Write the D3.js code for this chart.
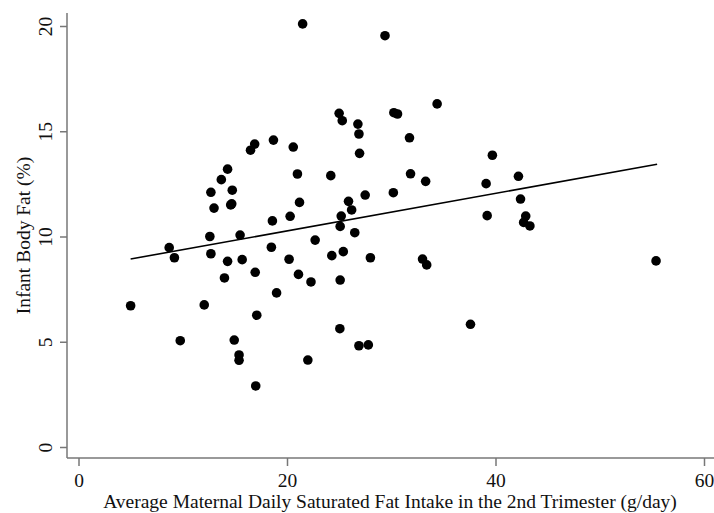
<!DOCTYPE html>
<html>
<head>
<meta charset="utf-8">
<script src="https://cdn.jsdelivr.net/npm/d3@7"></script>
<style>
  html, body { margin: 0; padding: 0; background: #fff; }
  svg { display: block; }
  text { font-family: "Liberation Serif", "DejaVu Serif", serif; fill: #111; }
</style>
</head>
<body>
<div id="chart"></div>
<script>
// Scatter of infant body fat vs maternal saturated fat intake

const satFat = [
  18.7, 16.9, 16.5, 14.3, 13.7, 12.7, 14.75, 14.6, 14.7, 13.0,
  18.6, 12.6, 15.5, 21.5, 29.4, 34.4, 25.0, 25.3, 26.8, 26.9,
  30.25, 30.6, 31.75, 20.6, 26.96, 21.0, 24.2, 31.85, 33.3, 27.5,
  30.2, 21.2, 25.9, 26.2, 20.3, 25.2, 25.1, 26.5, 22.7, 39.7,
  39.1, 42.2, 42.4, 39.2, 42.9, 42.7, 43.3, 33.0, 33.4, 55.4,
  37.6, 8.7, 9.2, 12.7, 18.5, 14.3, 15.7, 14.0, 16.95, 19.0,
  5.0, 12.06, 17.1, 9.76, 14.94, 15.4, 15.4, 17.0, 20.2, 24.3,
  25.4, 28.0, 21.1, 22.3, 25.1, 25.07, 26.9, 27.8, 22.0
]

const bodyFat = [
  14.58, 14.39, 14.1, 13.2, 12.7, 12.1, 12.2, 11.5, 11.55, 11.35,
  10.74, 10.0, 10.07, 20.1, 19.54, 16.3, 15.85, 15.5, 15.34, 14.87,
  15.88, 15.82, 14.69, 14.25, 13.95, 12.97, 12.89, 12.98, 12.62, 11.97,
  12.08, 11.62, 11.67, 11.26, 10.96, 10.97, 10.48, 10.18, 9.83, 13.86,
  12.51, 12.86, 11.78, 10.99, 10.97, 10.67, 10.5, 8.93, 8.65, 8.84,
  5.83, 9.47, 8.99, 9.18, 9.49, 8.82, 8.9, 8.03, 8.3, 7.32,
  6.71, 6.75, 6.26, 5.05, 5.08, 4.37, 4.12, 2.9, 8.92, 9.09,
  9.28, 8.99, 8.2, 7.84, 7.93, 5.62, 4.81, 4.85, 4.13
]

// fitted line at its two ends
const fitX = [5, 55.5]
const fitY = [8.93, 13.43]

const xTicks = [0, 20, 40, 60]
const yTicks = [0, 5, 10, 15, 20]

const xTitle = "Average Maternal Daily Saturated Fat Intake in the 2nd Trimester (g/day)"
const yTitle = "Infant Body Fat (%)"

const width = 714
const height = 513
const axisColor = "#777"
const fontSize = "19.5px"

const svg = d3.select("#chart").append("svg").attr("width", width).attr("height", height)

const x = d3.scaleLinear().domain([0, 60]).range([78.5, 704])
const y = d3.scaleLinear().domain([0, 20]).range([447, 26])

const axisLeftX = 67
const axisBottomY = 458

// axis lines
svg.append("line")
  .attr("x1", axisLeftX).attr("x2", axisLeftX)
  .attr("y1", 13).attr("y2", axisBottomY)
  .style("stroke", axisColor).style("stroke-width", 1.5)

svg.append("line")
  .attr("x1", axisLeftX).attr("x2", width)
  .attr("y1", axisBottomY).attr("y2", axisBottomY)
  .style("stroke", axisColor).style("stroke-width", 1.5)

// x axis
const xAxis = d3.axisBottom(x).tickValues(xTicks).tickSize(8).tickPadding(7)
const gx = svg.append("g").attr("transform", `translate(0,${axisBottomY})`).call(xAxis)
gx.select(".domain").remove()
gx.selectAll(".tick line").style("stroke", axisColor).style("stroke-width", 1.5)
gx.selectAll(".tick text")
  .style("font-family", '"Liberation Serif", serif')
  .style("font-size", fontSize)
  .style("fill", "#111")

// y axis, labels turned upright like the original
const yAxis = d3.axisLeft(y).tickValues(yTicks).tickSize(7).tickFormat(d3.format("d"))
const gy = svg.append("g").attr("transform", `translate(${axisLeftX},0)`).call(yAxis)
gy.select(".domain").remove()
gy.selectAll(".tick line").style("stroke", axisColor).style("stroke-width", 1.5)
gy.selectAll(".tick text")
  .attr("x", null).attr("dy", null)
  .attr("transform", "translate(-15,0) rotate(-90)")
  .style("text-anchor", "middle")
  .style("font-family", '"Liberation Serif", serif')
  .style("font-size", fontSize)
  .style("fill", "#111")

// titles
svg.append("text")
  .attr("x", 390).attr("y", 507.5)
  .style("text-anchor", "middle")
  .style("font-size", fontSize)
  .text(xTitle)

svg.append("text")
  .attr("transform", "translate(30,235.5) rotate(-90)")
  .style("text-anchor", "middle")
  .style("font-size", fontSize)
  .text(yTitle)

// points
const points = satFat.map((v, i) => ({ x: v, y: bodyFat[i] }))

svg.append("g")
  .selectAll("circle")
  .data(points)
  .enter()
  .append("circle")
  .attr("cx", (d) => x(d.x))
  .attr("cy", (d) => y(d.y))
  .attr("r", 4.8)
  .style("fill", "#000")

// fitted line
const line = d3.line().x((d) => x(d[0])).y((d) => y(d[1]))
svg.append("path")
  .datum(fitX.map((v, i) => [v, fitY[i]]))
  .attr("d", line)
  .style("fill", "none")
  .style("stroke", "#000")
  .style("stroke-width", 1.6)
</script>
</body>
</html>
